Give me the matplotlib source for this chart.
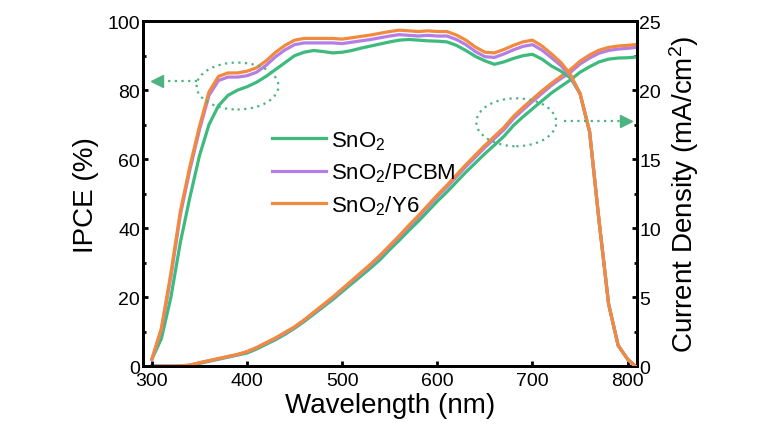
import numpy as np
import matplotlib
matplotlib.use('Agg')
import matplotlib.pyplot as plt
from matplotlib.patches import Ellipse

plt.rcParams['font.family'] = ['Liberation Sans', 'DejaVu Sans']
plt.rcParams['mathtext.fontset'] = 'custom'
plt.rcParams['mathtext.rm'] = 'Liberation Sans'
plt.rcParams['mathtext.it'] = 'Liberation Sans'

# wavelength grid (nm)
wl = [300, 310, 320, 330, 340, 350, 360, 370, 380, 390, 400, 410, 420, 430, 440,
      450, 460, 470, 480, 490, 500, 510, 520, 530, 540, 550, 560, 570, 580, 590,
      600, 610, 620, 630, 640, 650, 660, 670, 680, 690, 700, 710, 720, 730, 740,
      750, 760, 770, 780, 790, 800, 808]

# IPCE (%)
ipce_sno2 = [2, 8, 20, 36, 49, 61, 70, 75.5, 78.5, 80, 81, 82.3, 84, 86, 88,
             90, 91, 91.5, 91.2, 90.8, 91, 91.5, 92.2, 92.8, 93.4, 94, 94.5, 94.7, 94.5, 94.3,
             94.2, 94, 93, 91.5, 89.8, 88.5, 87.5, 88.2, 89.2, 90, 90.4, 89, 87, 85.5, 83.5,
             79, 68, 42, 18, 6, 2, 0]
ipce_pcbm = [2, 10.5, 26, 44, 57, 68.5, 78.5, 82.8, 83.8, 83.8, 84.2, 85.2, 87.2, 89.7, 91.7,
             93.2, 93.7, 93.7, 93.7, 93.7, 93.5, 93.9, 94.3, 94.7, 95.2, 95.7, 96.1, 95.9, 95.7, 95.9,
             95.7, 95.7, 94.7, 93.2, 91.2, 89.7, 89.5, 90.5, 91.7, 92.7, 93.2, 91.6, 89.4, 87.1, 84,
             79, 68, 42, 18, 6, 2, 0]
ipce_y6 = [2, 11, 27, 45, 58, 69.5, 79.5, 84, 85, 85, 85.5, 86.5, 88.5, 91, 93,
           94.5, 95, 95, 95, 95, 94.8, 95.2, 95.6, 96, 96.5, 97, 97.4, 97.2, 97, 97.2,
           97, 97, 96, 94.5, 92.5, 91, 90.8, 91.8, 93, 94, 94.5, 92.8, 90.5, 88, 84.5,
           79, 68, 42, 18, 6, 2, 0]

# integrated current density (mA/cm2)
jsc_sno2 = [0, 0, 0, 0, 0.05, 0.2, 0.35, 0.5, 0.65, 0.8, 0.95, 1.24, 1.58, 1.92, 2.31,
            2.75, 3.23, 3.76, 4.29, 4.82, 5.4, 5.97, 6.54, 7.12, 7.73, 8.45, 9.12, 9.83, 10.5, 11.22,
            11.95, 12.62, 13.34, 14.06, 14.73, 15.4, 16.02, 16.66, 17.44, 18.07, 18.65, 19.23, 19.8, 20.28, 20.75,
            21.3, 21.7, 22.05, 22.25, 22.33, 22.35, 22.4]
jsc_pcbm = [0, 0, 0, 0.01, 0.07, 0.24, 0.39, 0.54, 0.69, 0.84, 1.04, 1.33, 1.67, 2.01, 2.4,
            2.83, 3.32, 3.86, 4.4, 4.94, 5.55, 6.14, 6.73, 7.33, 7.97, 8.68, 9.37, 10.11, 10.8, 11.55,
            12.29, 12.98, 13.72, 14.46, 15.15, 15.85, 16.49, 17.13, 17.93, 18.57, 19.18, 19.77, 20.35, 20.85, 21.3,
            21.9, 22.33, 22.68, 22.88, 22.98, 23.03, 23.1]
jsc_y6 = [0, 0, 0, 0.02, 0.08, 0.25, 0.4, 0.55, 0.7, 0.85, 1.05, 1.35, 1.7, 2.05, 2.45,
          2.85, 3.35, 3.9, 4.45, 5.0, 5.6, 6.2, 6.8, 7.4, 8.05, 8.75, 9.45, 10.2, 10.9, 11.65,
          12.4, 13.1, 13.85, 14.6, 15.3, 16.0, 16.65, 17.3, 18.1, 18.75, 19.35, 19.95, 20.5, 21.0, 21.5,
          22.1, 22.55, 22.9, 23.1, 23.2, 23.25, 23.3]

labels = ['SnO$_2$', 'SnO$_2$/PCBM', 'SnO$_2$/Y6']
colors = ['#3dba7c', '#b57ee6', '#f28a3e']
ring_color = '#4db380'

fig = plt.figure(figsize=(7.68, 4.35), dpi=100)
ax = fig.add_axes([0.186, 0.156, 0.643, 0.793])
ax2 = ax.twinx()

ipce = [ipce_sno2, ipce_pcbm, ipce_y6]
jsc = [jsc_sno2, jsc_pcbm, jsc_y6]
for i in range(3):
    ax.plot(wl, ipce[i], color=colors[i], lw=2.3, label=labels[i], zorder=3 + i)
    ax2.plot(wl, jsc[i], color=colors[i], lw=2.3, zorder=3 + i)

ax.set_xlim(290.5, 809.5)
ax.set_ylim(0, 100)
ax2.set_ylim(0, 25)
ax.set_xticks([300, 400, 500, 600, 700, 800])
ax.set_yticks([0, 20, 40, 60, 80, 100])
ax.set_yticks(np.arange(10, 100, 20), minor=True)
ax2.set_yticks([0, 5, 10, 15, 20, 25])
ax2.set_yticks(np.arange(2.5, 25, 5), minor=True)

for a in (ax, ax2):
    a.tick_params(which='major', direction='in', length=3.5, width=2, labelsize=14, pad=2)
    a.tick_params(which='minor', direction='in', length=2.5, width=2)
    for s in a.spines.values():
        s.set_linewidth(2)
ax.tick_params(axis='x', pad=4.5)

ax.set_xlabel('Wavelength (nm)', fontsize=20, labelpad=2)
ax.set_ylabel('IPCE (%)', fontsize=20, labelpad=6)
ax2.set_ylabel('Current Density (mA/cm$^2$)', fontsize=20, labelpad=4)

# dotted rings with arrows pointing to the axes
ax.add_patch(Ellipse((390, 81.2), 86, 13.6, fill=False, ls=(0, (1, 2)), lw=1.6,
                     color=ring_color, zorder=8))
ax.plot([347, 306], [82.6, 82.6], ls=(0, (1, 2)), lw=1.6, color=ring_color, zorder=8)
ax.plot([305], [82.6], marker='<', ms=8, color=ring_color, zorder=8)
ax.add_patch(Ellipse((683, 70.7), 84, 13.9, fill=False, ls=(0, (1, 2)), lw=1.6,
                     color=ring_color, zorder=8))
ax.plot([733, 796], [71.1, 71.1], ls=(0, (1, 2)), lw=1.6, color=ring_color, zorder=8)
ax.plot([798], [71.1], marker='>', ms=8, color=ring_color, zorder=8)

ax.legend(loc='upper left', bbox_to_anchor=(0.222, 0.745), frameon=False, fontsize=16,
          handlelength=2.4, handletextpad=0.22, labelspacing=0.4)

ax.set_zorder(ax2.get_zorder() + 1)
ax.patch.set_visible(False)

fig.savefig('out.png', dpi=100)
